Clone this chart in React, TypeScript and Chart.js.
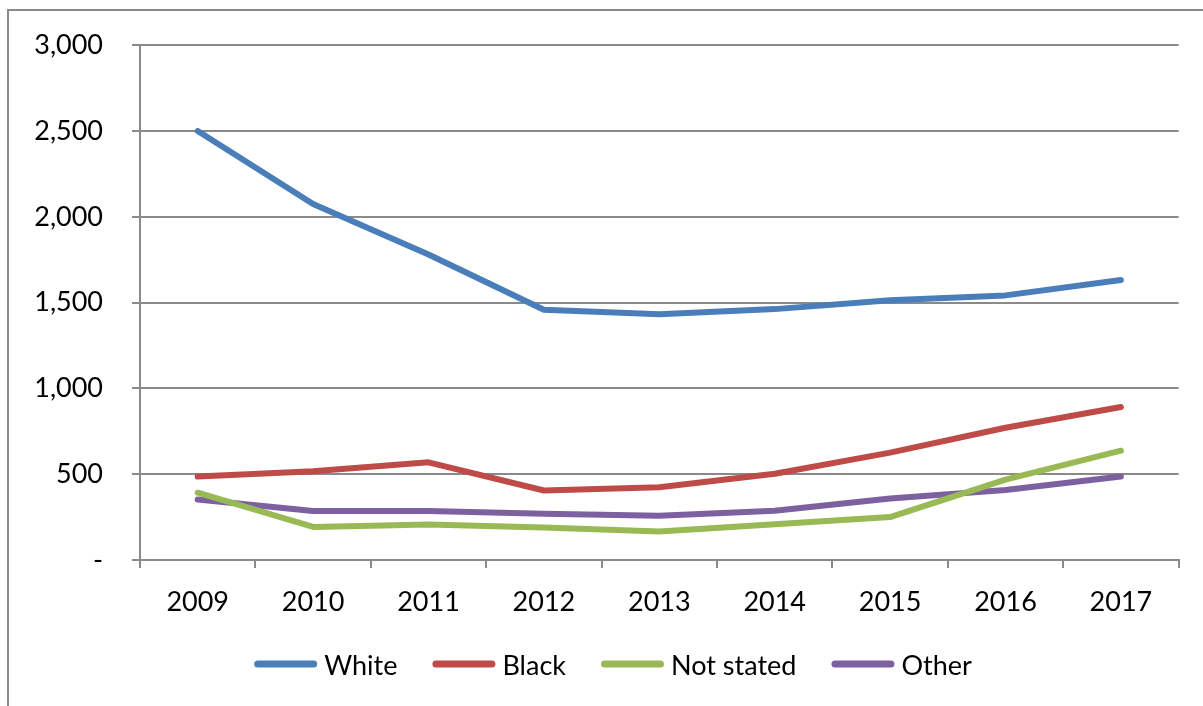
import React, { useEffect, useRef } from "react";
import { Chart, registerables } from "chart.js";

Chart.register(...registerables);

// Years on the category axis
const years = ["2009", "2010", "2011", "2012", "2013", "2014", "2015", "2016", "2017"];

// Series values per year
const white = [2500, 2075, 1780, 1458, 1432, 1462, 1514, 1542, 1632];
const black = [486, 517, 569, 405, 424, 503, 626, 771, 892];
const notStated = [392, 193, 207, 190, 166, 208, 250, 468, 637];
const other = [352, 286, 286, 270, 258, 287, 358, 408, 487];

// Value axis range
const yMin = 0;
const yMax = 3000;
const yStep = 500;

const FONT = "Lato";
const FONT_SIZE = 27;
const GRID = "#8a8a8a";

// Legend drawn as short thick strokes followed by the series name
const lineLegend = {
  id: "lineLegend",
  afterDraw(chart: any, _args: any, opts: any) {
    const ctx = chart.ctx as CanvasRenderingContext2D;
    ctx.save();
    ctx.font = `${opts.fontSize}px ${opts.fontFamily}`;
    const items = chart.data.datasets.map((ds: any) => ({
      label: ds.label as string,
      color: ds.borderColor as string,
      w: opts.lineLength + opts.textGap + ctx.measureText(ds.label).width,
    }));
    const total =
      items.reduce((s: number, it: any) => s + it.w, 0) + opts.itemGap * (items.length - 1);
    let x = opts.centerX - total / 2;
    const lw = opts.lineWidth;
    for (const it of items) {
      ctx.strokeStyle = it.color;
      ctx.lineWidth = lw;
      ctx.lineCap = "round";
      ctx.beginPath();
      ctx.moveTo(x + lw / 2, opts.lineY);
      ctx.lineTo(x + opts.lineLength - lw / 2, opts.lineY);
      ctx.stroke();
      ctx.fillStyle = "#000";
      ctx.textBaseline = "middle";
      ctx.textAlign = "left";
      ctx.fillText(it.label, x + opts.lineLength + opts.textGap, opts.textY);
      x += it.w + opts.itemGap;
    }
    ctx.restore();
  },
};

function formatTick(v: number): string {
  if (v === 0) return "-";
  return v.toLocaleString("en-US");
}

export default function App() {
  const canvasRef = useRef<HTMLCanvasElement | null>(null);

  useEffect(() => {
    let chart: Chart | null = null;
    let cancelled = false;

    const build = () => {
      if (cancelled || !canvasRef.current) return;
      Chart.defaults.font.family = FONT;
      Chart.defaults.font.size = FONT_SIZE;
      Chart.defaults.color = "#000";

      const mk = (label: string, data: number[], color: string) => ({
        label,
        data,
        borderColor: color,
        backgroundColor: color,
        borderWidth: 6,
        borderCapStyle: "round" as const,
        borderJoinStyle: "round" as const,
        pointRadius: 0,
        pointHoverRadius: 0,
        tension: 0,
        fill: false,
      });

      chart = new Chart(canvasRef.current, {
        type: "line",
        data: {
          labels: years,
          datasets: [
            mk("White", white, "#4a7ebb"),
            mk("Black", black, "#be4b48"),
            mk("Not stated", notStated, "#98b954"),
            mk("Other", other, "#7d60a0"),
          ],
        },
        plugins: [lineLegend],
        options: {
          responsive: false,
          animation: false,
          devicePixelRatio: 1,
          events: [],
          layout: { padding: { left: 0, top: 42, right: 24.4, bottom: 0 } },
          plugins: {
            legend: { display: false },
            tooltip: { enabled: false },
            title: { display: false },
            lineLegend: {
              fontFamily: FONT,
              fontSize: FONT_SIZE,
              lineLength: 63,
              lineWidth: 7,
              textGap: 7,
              itemGap: 35,
              centerX: 613,
              lineY: 664,
              textY: 666,
            },
          } as any,
          scales: {
            x: {
              offset: true,
              afterFit: (s: any) => {
                s.height = 146;
              },
              grid: {
                display: true,
                drawOnChartArea: false,
                offset: true,
                tickLength: 8,
                color: GRID,
                lineWidth: 2,
              },
              border: { display: true, color: GRID, width: 2 },
              ticks: { padding: 18, maxRotation: 0, autoSkip: false },
            },
            y: {
              min: yMin,
              max: yMax,
              afterFit: (s: any) => {
                s.width = 140;
              },
              grid: {
                color: GRID,
                lineWidth: 2,
                tickLength: 8,
              },
              border: { display: true, color: GRID, width: 2 },
              ticks: {
                stepSize: yStep,
                padding: 29,
                callback: (v: any) => formatTick(Number(v)),
              },
            },
          },
        },
      });
    };

    const fontsReady = (document as any).fonts?.load
      ? (document as any).fonts.load(`${FONT_SIZE}px ${FONT}`).catch(() => undefined)
      : Promise.resolve();
    Promise.resolve(fontsReady).then(build);

    return () => {
      cancelled = true;
      if (chart) chart.destroy();
    };
  }, []);

  return (
    <div
      style={{
        position: "fixed",
        left: 0,
        top: 0,
        width: 1203,
        height: 706,
        overflow: "hidden",
        background: "#fff",
      }}
    >
      <div
        style={{
          position: "absolute",
          left: 7,
          top: 9,
          width: 1400,
          height: 900,
          border: `2px solid ${GRID}`,
          boxSizing: "border-box",
        }}
      />
      <canvas
        ref={canvasRef}
        width={1203}
        height={706}
        style={{ position: "absolute", left: 0, top: 0, width: 1203, height: 706, display: "block" }}
      />
    </div>
  );
}
